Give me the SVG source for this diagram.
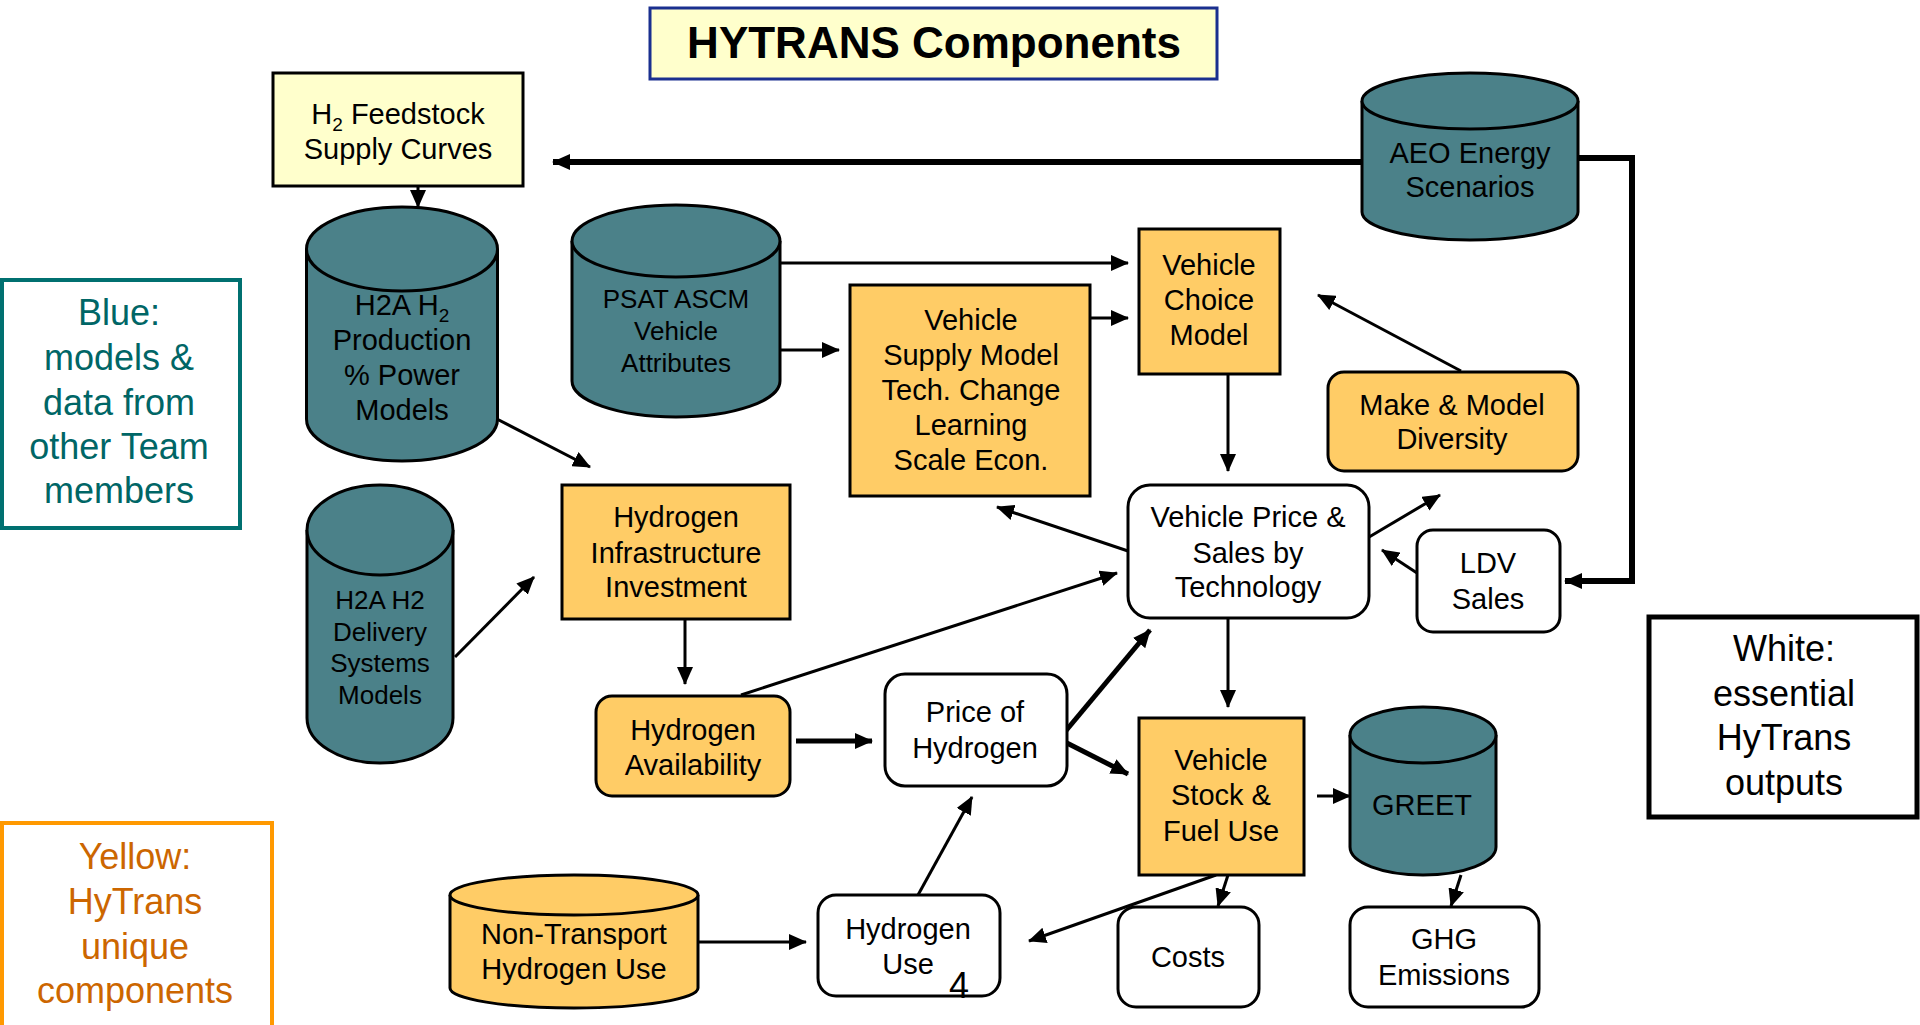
<svg xmlns="http://www.w3.org/2000/svg" width="1920" height="1025" viewBox="0 0 1920 1025">
<style>
text{font-family:"Liberation Sans",Arial,sans-serif;font-size:29px;text-anchor:middle;fill:#000}
.sm{font-size:26px}
.lg{font-size:36px}
.box{stroke:#000;stroke-width:3}
.org{fill:#ffcc66}
.wht{fill:#fff}
.cyl{fill:#4b8189;stroke:#000;stroke-width:3}
.cylY{fill:#ffcc66;stroke:#000;stroke-width:3}
.ln{fill:none;stroke:#000;stroke-width:3;marker-end:url(#ah)}
.thk{fill:none;stroke:#000;stroke-width:5;marker-end:url(#ah)}
.tk6{fill:none;stroke:#000;stroke-width:6}
</style>
<defs>
<marker id="ah" markerUnits="userSpaceOnUse" markerWidth="18" markerHeight="16" refX="17" refY="8" orient="auto">
<path d="M0,0 L18,8 L0,16 z" fill="#000"/>
</marker>
</defs>
<rect width="1920" height="1025" fill="#fff"/>

<g id="connectors">
<path class="tk6" d="M1362,162 H553" marker-end="url(#ah)"/>
<path class="tk6" d="M1578,158 H1632 V581 H1565" marker-end="url(#ah)"/>
<path class="ln" d="M418,186 V207"/>
<path class="ln" d="M493,417 L590,467"/>
<path class="ln" d="M774,263 H1128"/>
<path class="ln" d="M774,350 H839"/>
<path class="ln" d="M1085,318 H1128"/>
<path class="ln" d="M1228,375 V471"/>
<path class="ln" d="M1461,371 L1318,295"/>
<path class="ln" d="M1128,551 L997,507"/>
<path class="ln" d="M1359,543 L1440,495"/>
<path class="ln" d="M1417,573 L1382,550"/>
<path class="ln" d="M685,619 V684"/>
<path class="ln" d="M455,657 L534,577"/>
<path class="ln" d="M741,695 L1117,573"/>
<path class="thk" d="M796,741 H872"/>
<path class="thk" d="M1059,739 L1150,630"/>
<path class="thk" d="M1059,739 L1128,774"/>
<path class="ln" d="M1228,619 V707"/>
<path class="ln" d="M918,895 L972,797"/>
<path class="ln" d="M685,942 H806"/>
<path class="ln" d="M1216,875 L1029,941"/>
<path class="ln" d="M1228,875 L1218,906"/>
<path class="ln" d="M1317,796 H1350"/>
<path class="ln" d="M1461,875 L1451,906"/>
</g>

<g id="title">
<rect x="650" y="8" width="567" height="71" fill="#ffffcc" stroke="#1a2f8f" stroke-width="3"/>
<text x="934" y="58" style="font-size:44px;font-weight:bold">HYTRANS Components</text>
</g>

<g id="feedstock">
<rect class="box" x="273" y="73" width="250" height="113" fill="#ffffcc"/>
<text x="398" y="124">H<tspan font-size="19" dy="7">2</tspan><tspan dy="-7"> Feedstock</tspan></text>
<text x="398" y="159">Supply Curves</text>
</g>

<g id="h2a-production">
<path class="cyl" d="M306.5,249 V419 A95.5,42 0 0 0 497.5,419 V249"/>
<ellipse class="cyl" cx="402" cy="249" rx="95.5" ry="42"/>
<text x="402" y="315">H2A H<tspan font-size="19" dy="7">2</tspan></text>
<text x="402" y="350">Production</text>
<text x="402" y="385">% Power</text>
<text x="402" y="420">Models</text>
</g>

<g id="psat">
<path class="cyl" d="M572,241 V381 A104,36 0 0 0 780,381 V241"/>
<ellipse class="cyl" cx="676" cy="241" rx="104" ry="36"/>
<text class="sm" x="676" y="308">PSAT ASCM</text>
<text class="sm" x="676" y="340">Vehicle</text>
<text class="sm" x="676" y="372">Attributes</text>
</g>

<g id="vehicle-supply">
<rect class="box org" x="850" y="285" width="240" height="211"/>
<text x="971" y="330">Vehicle</text>
<text x="971" y="365">Supply Model</text>
<text x="971" y="400">Tech. Change</text>
<text x="971" y="435">Learning</text>
<text x="971" y="470">Scale Econ.</text>
</g>

<g id="vehicle-choice">
<rect class="box org" x="1139" y="229" width="141" height="145"/>
<text x="1209" y="275">Vehicle</text>
<text x="1209" y="310">Choice</text>
<text x="1209" y="345">Model</text>
</g>

<g id="aeo">
<path class="cyl" d="M1362,101 V212 A108,28 0 0 0 1578,212 V101"/>
<ellipse class="cyl" cx="1470" cy="101" rx="108" ry="28"/>
<text x="1470" y="163">AEO Energy</text>
<text x="1470" y="197">Scenarios</text>
</g>

<g id="make-model">
<rect class="box org" x="1328" y="372" width="250" height="99" rx="16"/>
<text x="1452" y="415">Make &amp; Model</text>
<text x="1452" y="449">Diversity</text>
</g>

<g id="vehicle-price">
<rect class="box wht" x="1128" y="485" width="241" height="133" rx="22"/>
<text x="1248" y="527">Vehicle Price &amp;</text>
<text x="1248" y="563">Sales by</text>
<text x="1248" y="597">Technology</text>
</g>

<g id="ldv-sales">
<rect class="box wht" x="1417" y="530" width="143" height="102" rx="16"/>
<text x="1488" y="573">LDV</text>
<text x="1488" y="609">Sales</text>
</g>

<g id="h2-infra">
<rect class="box org" x="562" y="485" width="228" height="134"/>
<text x="676" y="527">Hydrogen</text>
<text x="676" y="563">Infrastructure</text>
<text x="676" y="597">Investment</text>
</g>

<g id="h2a-delivery">
<path class="cyl" d="M307,530 V718 A73,45 0 0 0 453,718 V530"/>
<ellipse class="cyl" cx="380" cy="530" rx="73" ry="45"/>
<text class="sm" x="380" y="609">H2A H2</text>
<text class="sm" x="380" y="641">Delivery</text>
<text class="sm" x="380" y="672">Systems</text>
<text class="sm" x="380" y="704">Models</text>
</g>

<g id="h2-availability">
<rect class="box org" x="596" y="696" width="194" height="100" rx="16"/>
<text x="693" y="740">Hydrogen</text>
<text x="693" y="775">Availability</text>
</g>

<g id="price-h2">
<rect class="box wht" x="885" y="674" width="182" height="112" rx="20"/>
<text x="975" y="722">Price of</text>
<text x="975" y="758">Hydrogen</text>
</g>

<g id="vehicle-stock">
<rect class="box org" x="1139" y="718" width="165" height="157"/>
<text x="1221" y="770">Vehicle</text>
<text x="1221" y="805">Stock &amp;</text>
<text x="1221" y="841">Fuel Use</text>
</g>

<g id="greet">
<path class="cyl" d="M1350,735 V847 A73,28 0 0 0 1496,847 V735"/>
<ellipse class="cyl" cx="1423" cy="735" rx="73" ry="28"/>
<text x="1422" y="815">GREET</text>
</g>

<g id="costs">
<rect class="box wht" x="1118" y="907" width="141" height="100" rx="18"/>
<text x="1188" y="967">Costs</text>
</g>

<g id="ghg">
<rect class="box wht" x="1350" y="907" width="189" height="100" rx="18"/>
<text x="1444" y="949">GHG</text>
<text x="1444" y="985">Emissions</text>
</g>

<g id="h2-use">
<rect class="box wht" x="818" y="895" width="182" height="101" rx="18"/>
<text x="908" y="939">Hydrogen</text>
<text x="908" y="974">Use</text>
</g>

<g id="non-transport">
<path class="cylY" d="M450,895 V988 A124,20 0 0 0 698,988 V895"/>
<ellipse class="cylY" cx="574" cy="895" rx="124" ry="20"/>
<text x="574" y="944">Non-Transport</text>
<text x="574" y="979">Hydrogen Use</text>
</g>

<g id="legend-blue">
<rect x="2" y="280" width="238" height="248" fill="#fff" stroke="#007070" stroke-width="4"/>
<text class="lg" x="119" y="325" style="fill:#006666">Blue:</text>
<text class="lg" x="119" y="370" style="fill:#006666">models &amp;</text>
<text class="lg" x="119" y="415" style="fill:#006666">data from</text>
<text class="lg" x="119" y="459" style="fill:#006666">other Team</text>
<text class="lg" x="119" y="503" style="fill:#006666">members</text>
</g>

<g id="legend-yellow">
<rect x="2" y="823" width="270" height="210" fill="#fff" stroke="#ff9900" stroke-width="4"/>
<text class="lg" x="135" y="869" style="fill:#cc6600">Yellow:</text>
<text class="lg" x="135" y="914" style="fill:#cc6600">HyTrans</text>
<text class="lg" x="135" y="959" style="fill:#cc6600">unique</text>
<text class="lg" x="135" y="1003" style="fill:#cc6600">components</text>
</g>

<g id="legend-white">
<rect x="1649" y="617" width="268" height="200" fill="#fff" stroke="#000" stroke-width="5"/>
<text class="lg" x="1784" y="661">White:</text>
<text class="lg" x="1784" y="706">essential</text>
<text class="lg" x="1784" y="750">HyTrans</text>
<text class="lg" x="1784" y="795">outputs</text>
</g>

<text x="959" y="998" style="font-size:36px">4</text>
</svg>
